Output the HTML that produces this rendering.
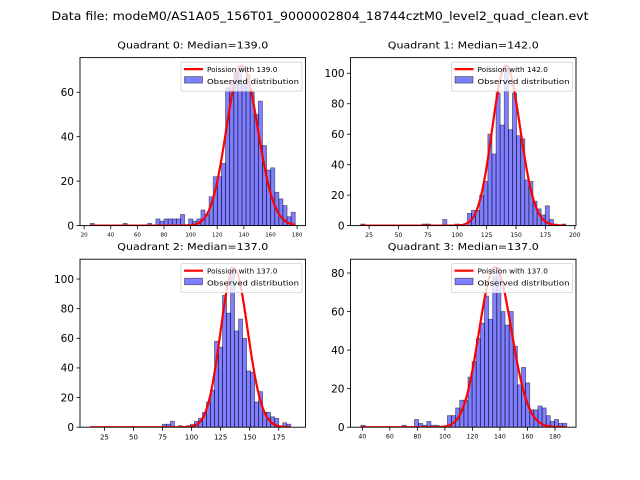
<!DOCTYPE html>
<html><head><meta charset="utf-8"><style>
body{margin:0;background:#fff;}
svg{display:block;font-family:"DejaVu Sans","Liberation Sans",sans-serif;}
</style></head><body>
<svg id="chart" width="640" height="480" viewBox="0 0 640 480">
<rect width="640" height="480" fill="#fff"/>
<text x="320" y="20" font-size="11.5" text-anchor="middle" textLength="537" lengthAdjust="spacingAndGlyphs">Data file: modeM0/AS1A05_156T01_9000002804_18744cztM0_level2_quad_clean.evt</text>
</svg>
<script>
// Quadrant data (arrays per quadrant)
const q0Counts = [1,0,0,0,0,0,0,0,1,0,0,0,0,0,1,0,3,2,3,3,3,3,5,0,3,2,3,7,5,13,22,22,28,62,65,69,72,64,68,60,50,56,36,25,26,15,12,9,4,6];
const q1Counts = [1,0,0,0,0,0,0,0,0,0,0,0,0,0,0,1,1,0,0,0,4,0,0,1,0,0,8,10,10,20,29,60,47,87,66,105,63,87,59,57,30,29,16,11,7,13,4,1,0,1];
const q2Counts = [0,0,0,0,0,0,0,0,0,0,0,0,0,0,0,0,0,0,2,2,4,0,1,0,1,2,4,6,10,17,25,58,54,89,77,108,65,73,60,38,37,17,24,10,10,7,6,0,3,2];
const q3Counts = [1,0,0,0,0,0,0,0,0,0,1,0,0,4,2,1,3,1,1,0,0,6,6,10,14,14,26,34,46,54,68,56,78,83,60,53,60,42,22,31,23,9,9,11,10,6,3,4,2,2];
const binMins = [24.6, 17.9, 12.7, 39.0];
const binMaxs = [178.6, 192.3, 185.3, 188.6];
const medians = [139.0, 142.0, 137.0, 137.0];
const totals = [691, 899, 910, 814];
const xLims = [[16.9, 186.3],[9.2, 201.0],[4, 198],[31.4, 195.3]];
const yMaxs = [75.6, 110.3, 113.4, 87.15];
const xTicks = [[20,40,60,80,100,120,140,160,180],[25,50,75,100,125,150,175,200],[25,50,75,100,125,150,175],[40,60,80,100,120,140,160,180]];
const yTicks = [[0,20,40,60],[0,20,40,60,80,100],[0,20,40,60,80,100],[0,20,40,60,80]];
const xTickFont = [5.5, 6, 7, 6.2];
const allCounts = [q0Counts, q1Counts, q2Counts, q3Counts];

const NS = "http://www.w3.org/2000/svg";
const svg = document.getElementById('chart');
function mk(tag, attrs, parent){const e=document.createElementNS(NS,tag);for(const k in attrs)e.setAttribute(k,attrs[k]);(parent||svg).appendChild(e);return e;}
function lgamma(x){
  if(x<7){let p=1;while(x<7){p*=x;x+=1;}return lgamma(x)-Math.log(p);}
  return (x-0.5)*Math.log(x)-x+0.5*Math.log(2*Math.PI)+1/(12*x)-1/(360*x*x*x);
}
function pmf(k,l){return Math.exp(k*Math.log(l)-l-lgamma(k+1));}

const boxes = [[80,57.6],[350.5,57.6],[80,259.2],[350.5,259.2]];
const W = 225.5, H = 168;
for(let q=0;q<4;q++){
  const [x0,y0]=boxes[q];
  const g = mk('g',{});
  
  
  const sx = v => x0 + (v - xLims[q][0])/(xLims[q][1]-xLims[q][0])*W;
  const sy = v => y0 + H - v/yMaxs[q]*H;
  const clip = mk('clipPath',{id:'clip'+q},g);
  mk('rect',{x:x0,y:y0,width:W,height:H},clip);
  const counts = allCounts[q];
  const bw = (binMaxs[q]-binMins[q])/counts.length;
  const bars = mk('g',{'clip-path':'url(#clip'+q+')'},g);
  counts.forEach((c,i)=>{
    if(c<=0) return;
    const a = binMins[q]+i*bw;
    const r = mk('rect',{x:sx(a),y:sy(c),width:sx(a+bw)-sx(a),height:sy(0)-sy(c),fill:'rgba(0,0,255,0.5)',stroke:'rgba(0,0,0,0.5)','stroke-width':0.8},bars);
    
    
  });
  let d='';
  const steps=300;
  for(let s=0;s<=steps;s++){
    const k = binMins[q]+(binMaxs[q]-binMins[q])*s/steps;
    const v = pmf(k,medians[q])*totals[q]*bw;
    d += (s?'L':'M')+sx(k).toFixed(2)+','+sy(v).toFixed(2);
  }
  const curve = mk('path',{d:d,fill:'none',stroke:'red','stroke-width':2.2,'clip-path':'url(#clip'+q+')'},g);
  
  
  mk('rect',{x:x0,y:y0,width:W,height:H,fill:'none',stroke:'#000','stroke-width':0.9},g);
  xTicks[q].forEach(t=>{
    const x=sx(t);
    mk('line',{x1:x,x2:x,y1:y0+H,y2:y0+H+3.5,stroke:'#000','stroke-width':0.8},g);
    const tx=mk('text',{x:x,y:y0+H+5+xTickFont[q]*1.05,'font-size':xTickFont[q],'text-anchor':'middle'},g);
    tx.textContent=t;
    
    
  });
  yTicks[q].forEach(t=>{
    const y=sy(t);
    mk('line',{x1:x0-3.5,x2:x0,y1:y,y2:y,stroke:'#000','stroke-width':0.8},g);
    const ty=mk('text',{x:x0-6,y:y+3.8,'font-size':10.5,'text-anchor':'end'},g);
    ty.textContent=t;
    
    
  });
  const title=mk('text',{x:x0+W/2,y:y0-9,'font-size':9.5,'text-anchor':'middle',textLength:151,lengthAdjust:'spacingAndGlyphs'},g);
  title.textContent='Quadrant '+q+': Median='+medians[q].toFixed(1);
  
  
  const lg = mk('g',{},g);
  
  
  const lx = x0+W-124.5, ly=y0+4.5;
  mk('rect',{x:lx,y:ly,width:121,height:29,fill:'rgba(255,255,255,0.8)',stroke:'#ccc','stroke-width':0.7,rx:1.5},lg);
  mk('line',{x1:lx+3,x2:lx+22,y1:ly+7,y2:ly+7,stroke:'red','stroke-width':2.2},lg);
  mk('rect',{x:lx+3.5,y:ly+14.5,width:18,height:6.5,fill:'rgba(0,0,255,0.5)',stroke:'rgba(0,0,0,0.5)','stroke-width':0.8},lg);
  const t1=mk('text',{x:lx+26,y:ly+9.8,'font-size':7.3},lg);
  t1.textContent='Poission with '+medians[q].toFixed(1);
  
  
  const t2=mk('text',{x:lx+26,y:ly+21.8,'font-size':7.3,textLength:92,lengthAdjust:'spacingAndGlyphs'},lg);
  t2.textContent='Observed distribution';
  
  
}
</script>
</body></html>
